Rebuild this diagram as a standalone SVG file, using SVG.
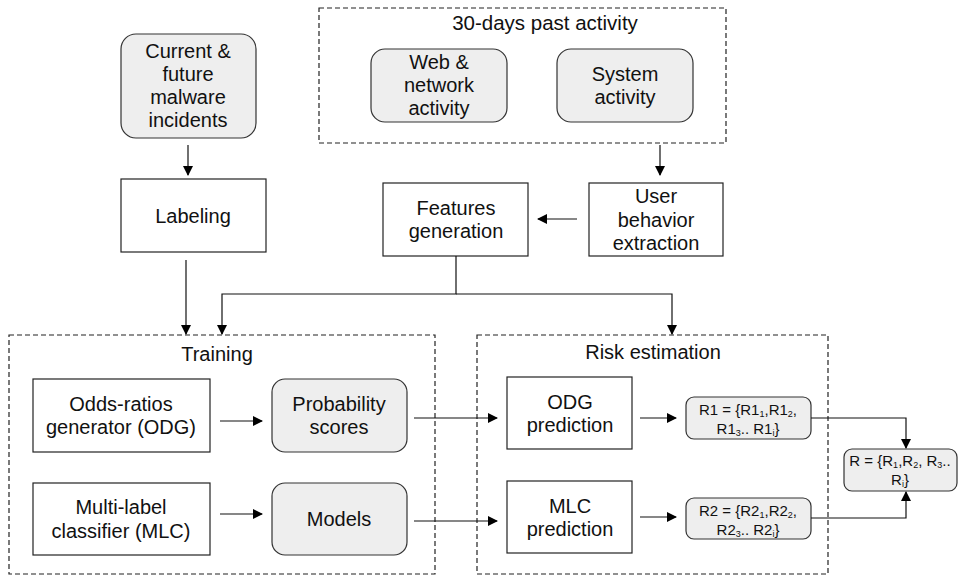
<svg xmlns="http://www.w3.org/2000/svg" width="962" height="575" viewBox="0 0 962 575">
<defs>
<marker id="ah" markerWidth="10" markerHeight="10" refX="9" refY="5" orient="auto" markerUnits="userSpaceOnUse">
<path d="M0,0 L10,5 L0,10 Z" fill="#000"/>
</marker>
<style>
.box{fill:#fff;stroke:#222;stroke-width:1.2}
.rbox{fill:#eeeeee;stroke:#333;stroke-width:1.2}
.dash{fill:none;stroke:#222;stroke-width:1.2;stroke-dasharray:5,3}
.t{font-family:"Liberation Sans",Arial,sans-serif;font-size:20px;fill:#111;text-anchor:middle}
.s{font-family:"Liberation Sans",Arial,sans-serif;font-size:15px;fill:#111;text-anchor:middle}
.sub{font-size:9px}
.c{fill:none;stroke:#111;stroke-width:1.2}
</style>
</defs>
<rect width="962" height="575" fill="#fff"/>

<g id="past-activity">
<rect class="dash" x="319" y="8" width="407" height="135"/>
<text class="t" x="545" y="30" style="font-size:20.5px">30-days past activity</text>
</g>
<g id="web-network">
<rect class="rbox" x="371" y="49" width="136" height="73" rx="14"/>
<text class="t" x="439" y="69">Web &amp;</text>
<text class="t" x="439" y="92">network</text>
<text class="t" x="439" y="115">activity</text>
</g>
<g id="system-activity">
<rect class="rbox" x="557" y="49" width="136" height="73" rx="14"/>
<text class="t" x="625" y="81">System</text>
<text class="t" x="625" y="104">activity</text>
</g>
<g id="incidents">
<rect class="rbox" x="121" y="34" width="135" height="104" rx="15"/>
<text class="t" x="188" y="58">Current &amp;</text>
<text class="t" x="188" y="81">future</text>
<text class="t" x="188" y="104">malware</text>
<text class="t" x="188" y="127">incidents</text>
</g>
<g id="labeling">
<rect class="box" x="121" y="179" width="145" height="73"/>
<text class="t" x="193" y="223">Labeling</text>
</g>
<g id="features">
<rect class="box" x="383" y="183" width="145" height="73"/>
<text class="t" x="456" y="215">Features</text>
<text class="t" x="456" y="238">generation</text>
</g>
<g id="user-behavior">
<rect class="box" x="589" y="183" width="134" height="73"/>
<text class="t" x="656" y="203">User</text>
<text class="t" x="656" y="227">behavior</text>
<text class="t" x="656" y="250">extraction</text>
</g>

<g id="training">
<rect class="dash" x="9" y="335" width="426" height="239"/>
<text class="t" x="217" y="361">Training</text>
</g>
<g id="odg">
<rect class="box" x="33" y="379" width="177" height="73"/>
<text class="t" x="121" y="411">Odds-ratios</text>
<text class="t" x="121" y="434">generator (ODG)</text>
</g>
<g id="prob-scores">
<rect class="rbox" x="272" y="379" width="135" height="73" rx="13"/>
<text class="t" x="339" y="411">Probability</text>
<text class="t" x="339" y="434">scores</text>
</g>
<g id="mlc">
<rect class="box" x="33" y="483" width="177" height="72"/>
<text class="t" x="121" y="514">Multi-label</text>
<text class="t" x="121" y="538">classifier (MLC)</text>
</g>
<g id="models">
<rect class="rbox" x="272" y="483" width="135" height="72" rx="13"/>
<text class="t" x="339" y="526">Models</text>
</g>

<g id="risk-estimation">
<rect class="dash" x="477" y="335" width="351" height="239"/>
<text class="t" x="653" y="359">Risk estimation</text>
</g>
<g id="odg-prediction">
<rect class="box" x="507" y="377" width="125" height="72"/>
<text class="t" x="570" y="409">ODG</text>
<text class="t" x="570" y="432">prediction</text>
</g>
<g id="mlc-prediction">
<rect class="box" x="507" y="481" width="125" height="72"/>
<text class="t" x="570" y="513">MLC</text>
<text class="t" x="570" y="536">prediction</text>
</g>
<g id="r1">
<rect class="rbox" x="686" y="397" width="125" height="42" rx="8"/>
<text class="s" x="748" y="415">R1 = {R1<tspan class="sub" dy="2">1</tspan><tspan dy="-2">,R1</tspan><tspan class="sub" dy="2">2</tspan><tspan dy="-2">,</tspan></text>
<text class="s" x="748" y="434">R1<tspan class="sub" dy="2">3</tspan><tspan dy="-2">.. R1</tspan><tspan class="sub" dy="2">i</tspan><tspan dy="-2">}</tspan></text>
</g>
<g id="r2">
<rect class="rbox" x="686" y="498" width="125" height="41" rx="8"/>
<text class="s" x="748" y="516">R2 = {R2<tspan class="sub" dy="2">1</tspan><tspan dy="-2">,R2</tspan><tspan class="sub" dy="2">2</tspan><tspan dy="-2">,</tspan></text>
<text class="s" x="748" y="535">R2<tspan class="sub" dy="2">3</tspan><tspan dy="-2">.. R2</tspan><tspan class="sub" dy="2">i</tspan><tspan dy="-2">}</tspan></text>
</g>
<g id="r">
<rect class="rbox" x="844" y="449" width="113" height="42" rx="8"/>
<text class="s" x="900" y="466">R = {R<tspan class="sub" dy="2">1</tspan><tspan dy="-2">,R</tspan><tspan class="sub" dy="2">2</tspan><tspan dy="-2">, R</tspan><tspan class="sub" dy="2">3</tspan><tspan dy="-2">..</tspan></text>
<text class="s" x="900" y="485">R<tspan class="sub" dy="2">i</tspan><tspan dy="-2">}</tspan></text>
</g>

<g id="connectors">
<path class="c" d="M188,145 V175" marker-end="url(#ah)"/>
<path class="c" d="M660,145 V175" marker-end="url(#ah)"/>
<path class="c" d="M577,219 H538" marker-end="url(#ah)"/>
<path class="c" d="M186,260 V334" marker-end="url(#ah)"/>
<path class="c" d="M456,256 V294 H222 V334" marker-end="url(#ah)"/>
<path class="c" d="M456,294 H672 V334" marker-end="url(#ah)"/>
<path class="c" d="M220,421 H262" marker-end="url(#ah)"/>
<path class="c" d="M220,514 H262" marker-end="url(#ah)"/>
<path class="c" d="M414,418 H497" marker-end="url(#ah)"/>
<path class="c" d="M414,521 H497" marker-end="url(#ah)"/>
<path class="c" d="M640,418 H676" marker-end="url(#ah)"/>
<path class="c" d="M640,517 H676" marker-end="url(#ah)"/>
<path class="c" d="M811,418 H906 V448" marker-end="url(#ah)"/>
<path class="c" d="M811,518 H906 V492" marker-end="url(#ah)"/>
</g>
</svg>
